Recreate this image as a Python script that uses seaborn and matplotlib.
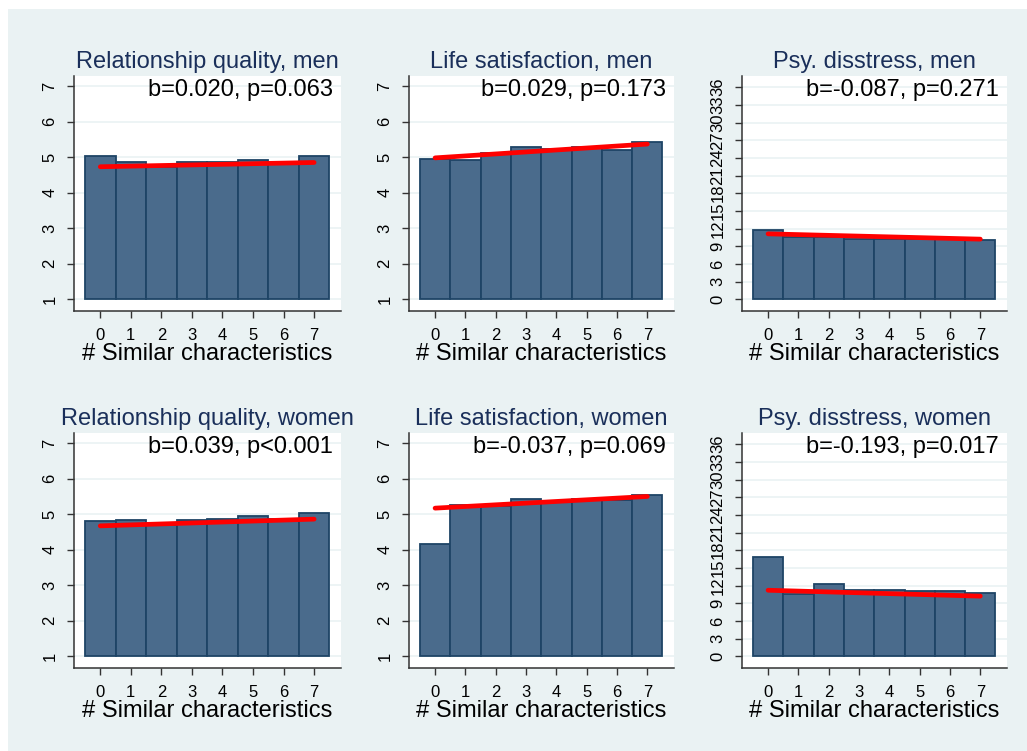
import numpy as np
import pandas as pd
import matplotlib
matplotlib.use("Agg")
import matplotlib.pyplot as plt
from matplotlib.patches import Rectangle
import seaborn as sns

sns.set_theme(style="white")
plt.rcParams["font.family"] = ["Liberation Sans", "DejaVu Sans"]

# ---- data ----
similar = [0, 1, 2, 3, 4, 5, 6, 7]

titles = [
    "Relationship quality, men", "Life satisfaction, men", "Psy. disstress, men",
    "Relationship quality, women", "Life satisfaction, women", "Psy. disstress, women",
]
stats = [
    "b=0.020, p=0.063", "b=0.029, p=0.173", "b=-0.087, p=0.271",
    "b=0.039, p<0.001", "b=-0.037, p=0.069", "b=-0.193, p=0.017",
]

rel_men = [5.04, 4.87, 4.71, 4.87, 4.87, 4.91, 4.85, 5.02]
life_men = [4.94, 4.91, 5.12, 5.29, 5.23, 5.29, 5.20, 5.43]
psy_men = [11.7, 10.5, 10.5, 10.3, 10.3, 10.2, 10.2, 10.0]
rel_women = [4.80, 4.83, 4.70, 4.83, 4.86, 4.94, 4.87, 5.03]
life_women = [4.17, 5.27, 5.24, 5.42, 5.38, 5.44, 5.40, 5.53]
psy_women = [16.9, 10.5, 12.2, 11.2, 11.2, 11.1, 11.0, 10.7]

# fitted line end points (at 0 and 7)
fit_x = [0, 7]
fit_rel_men = [4.73, 4.85]
fit_life_men = [4.98, 5.37]
fit_psy_men = [11.1, 10.2]
fit_rel_women = [4.67, 4.86]
fit_life_women = [5.17, 5.50]
fit_psy_women = [11.2, 10.2]

scale_17 = [1, 2, 3, 4, 5, 6, 7]
scale_psy = list(range(0, 37, 3))

panels = [
    (rel_men, fit_rel_men, "17"), (life_men, fit_life_men, "17"), (psy_men, fit_psy_men, "psy"),
    (rel_women, fit_rel_women, "17"), (life_women, fit_life_women, "17"), (psy_women, fit_psy_women, "psy"),
]

BG = "#EAF2F3"
BAR = "#4A6B8C"
EDGE = "#1E4466"
TITLE = "#1A2F5A"

W, H = 1027, 751
fig = plt.figure(figsize=(W / 100, H / 100), dpi=100)
fig.patch.set_facecolor("white")
fig.patches.append(Rectangle((8 / W, 0), 1, 1 - 9 / H, transform=fig.transFigure,
                             facecolor=BG, edgecolor="none", zorder=-10))

lefts = [74, 409, 742]
widths = [267, 265, 265]
tops = [76, 433]
ax_h = 235

for i, (vals, fit, kind) in enumerate(panels):
    r, c = divmod(i, 3)
    l = lefts[c]
    b = H - tops[r] - ax_h
    ax = fig.add_axes([l / W, b / H, widths[c] / W, ax_h / H])
    ax.set_facecolor("white")

    if kind == "17":
        base, ticks, ylim = 1, scale_17, (0.66, 7.29)
    else:
        base, ticks, ylim = 0, scale_psy, (-2.0, 37.9)

    for t in ticks:
        ax.axhline(t, color=BG, lw=1.2, zorder=0)

    df = pd.DataFrame({"n": similar, "mean": vals})
    sns.barplot(x=df["n"], y=df["mean"] - base, bottom=base, width=1, color=BAR,
                saturation=1, edgecolor=EDGE, linewidth=1.3, errorbar=None, ax=ax, zorder=2)
    sns.lineplot(x=fit_x, y=fit, color="#FF0000", lw=3.4, ax=ax, zorder=3)

    ax.set_xlim(-0.86, 7.88)
    ax.set_ylim(*ylim)
    ax.set_yticks(ticks)
    ax.set_yticklabels([str(t) for t in ticks], rotation=90, va="center")
    ax.set_xticks(range(8))
    ax.set_xticklabels([str(s) for s in similar])
    ax.tick_params(axis="both", direction="out", length=5, width=1, color="#333333",
                   labelsize=12, labelcolor="black", pad=7, left=True, bottom=True)
    for side in ["top", "right"]:
        ax.spines[side].set_visible(False)
    for side in ["left", "bottom"]:
        ax.spines[side].set_color("#333333")
        ax.spines[side].set_linewidth(1.1)

    ax.set_xlabel("# Similar characteristics", fontsize=17, color="black", labelpad=0)
    ax.set_ylabel("")
    ax.text(0.5, 1.035, titles[i], transform=ax.transAxes, ha="center", va="baseline",
            fontsize=17, color=TITLE)
    ax.text(0.97, 0.915, stats[i], transform=ax.transAxes, ha="right", va="baseline",
            fontsize=17, color="black")

fig.savefig("out.png", dpi=100, facecolor=fig.get_facecolor())
